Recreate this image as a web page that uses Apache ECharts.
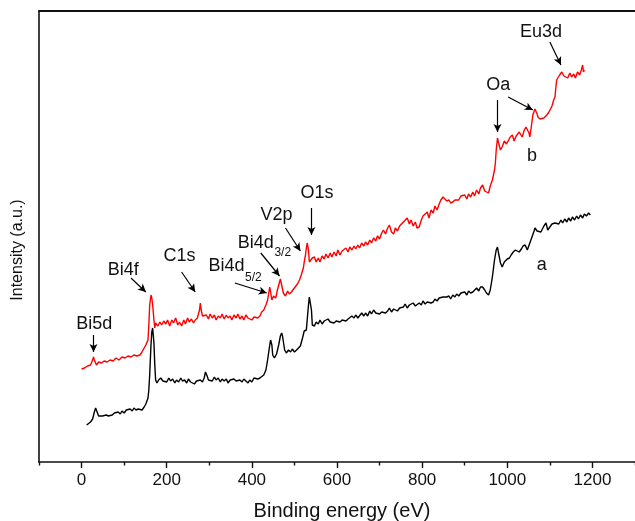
<!DOCTYPE html>
<html><head><meta charset="utf-8">
<script src="https://cdn.jsdelivr.net/npm/echarts@6/dist/echarts.min.js"></script>
<style>html,body{margin:0;padding:0;background:#fff}#c{width:635px;height:521px}</style>
</head><body><div id="c"></div>
<script>
const FONT = "'Liberation Sans', Arial, sans-serif";
const xMajorTicks = [0, 200, 400, 600, 800, 1000, 1200];
const xMinorTicks = [-100, 100, 300, 500, 700, 900, 1100, 1300];

// Spectrum b (red)
const energyB = [0,7,14,21,26,28,30,35,40,47,53,60,67,74,81,88,95,102,109,116,123,130,137,142,147,151,156,158,160,163,165,167,170,172,174,179,184,188,193,198,202,207,212,216,221,226,230,235,240,244,249,253,258,263,267,272,277,279,281,284,288,293,298,302,307,312,316,321,326,330,335,340,344,349,353,358,363,367,372,377,381,386,391,395,400,405,409,414,419,423,428,433,437,440,442,444,447,451,456,460,465,467,470,474,479,484,488,493,498,502,507,512,516,521,523,526,528,530,533,535,537,542,547,551,556,560,565,570,574,579,584,588,593,598,602,607,612,616,621,626,630,635,640,644,649,653,658,663,667,672,677,681,686,691,695,700,705,709,714,719,723,728,733,737,742,747,751,756,760,765,770,774,779,784,788,793,798,802,807,812,816,821,826,830,835,840,844,849,853,858,863,867,872,877,881,886,891,895,900,905,909,914,919,923,928,933,937,942,947,951,956,960,965,970,972,974,977,979,984,988,993,998,1002,1007,1012,1016,1021,1023,1028,1030,1035,1040,1044,1047,1051,1053,1058,1060,1065,1070,1072,1077,1081,1086,1088,1093,1098,1100,1105,1109,1112,1114,1116,1119,1123,1128,1133,1137,1142,1147,1151,1156,1160,1165,1170,1174,1177,1179,1181];
const intensityB = [93,94,96,97,102,105,102,97,100,99,101,100,102,101,104,102,105,104,106,105,107,106,107,110,114,117,122,137,157,167,164,157,142,134,139,136,140,137,141,138,142,136,142,139,144,137,140,136,142,138,144,140,143,139,142,144,152,159,152,146,144,147,143,148,144,147,142,146,144,148,143,147,144,146,142,147,144,148,143,146,142,147,144,146,142,145,143,144,146,150,152,157,162,170,175,170,162,166,164,172,180,183,177,169,166,171,168,170,173,175,178,182,187,194,200,207,214,219,212,200,202,204,205,200,204,200,206,203,208,204,209,205,210,206,212,207,211,209,214,210,215,212,216,213,217,214,219,216,220,217,222,219,224,221,226,223,229,232,228,234,237,230,228,234,231,236,238,240,242,244,238,242,236,240,234,235,242,246,248,250,244,252,249,256,252,258,262,265,263,261,262,259,260,262,264,262,266,264,267,263,268,265,270,266,272,268,274,277,271,273,269,276,282,292,299,312,324,320,312,315,321,318,319,325,327,321,326,324,330,332,325,332,335,337,329,325,340,347,353,348,345,343,342,344,345,347,350,352,356,362,365,374,382,384,387,390,386,388,384,389,385,388,384,390,387,392,397,390,392];

// Spectrum a (black)
const energyA = [12,16,21,26,30,33,35,40,44,49,53,58,63,67,72,77,81,86,91,95,100,105,109,114,119,123,128,133,137,142,147,151,156,158,160,163,165,167,170,172,174,177,181,186,191,195,200,205,209,214,219,223,228,233,237,242,247,251,256,260,265,270,274,279,284,288,291,293,295,298,302,307,312,316,321,326,330,335,340,344,349,353,358,363,367,372,377,381,386,391,395,400,405,409,414,419,423,428,433,437,442,444,447,449,453,458,463,467,470,472,477,481,486,491,495,500,505,509,514,519,523,528,530,533,535,537,540,542,547,551,556,560,565,570,574,579,584,588,593,598,602,607,612,616,621,626,630,635,640,644,649,653,658,663,667,672,677,681,686,691,695,700,705,709,714,719,723,728,733,737,742,747,751,756,760,765,770,774,779,784,788,793,798,802,807,812,816,821,826,830,835,840,844,849,853,858,863,867,872,877,881,886,891,895,900,905,909,914,919,923,928,933,937,942,947,951,956,960,965,970,974,977,979,984,988,993,995,1000,1005,1009,1014,1019,1023,1028,1033,1037,1042,1047,1049,1053,1058,1063,1065,1070,1074,1079,1081,1086,1091,1093,1095,1100,1105,1109,1112,1116,1121,1126,1130,1135,1140,1144,1149,1153,1158,1163,1167,1172,1177,1181,1186,1191,1195];
const intensityA = [37,38,40,43,50,54,52,46,44,46,45,47,46,48,47,49,47,50,48,51,49,52,50,53,51,54,52,53,52,52,55,58,64,72,87,117,130,134,119,97,82,79,82,84,81,83,80,84,81,83,79,82,80,84,81,82,79,83,80,82,78,81,79,82,80,84,90,91,86,82,84,81,85,82,84,80,83,81,83,79,82,80,83,81,79,82,80,83,81,79,82,80,84,82,83,84,86,87,92,102,117,122,117,107,104,108,117,126,129,126,112,109,112,110,113,110,112,114,116,124,131,132,142,157,165,166,152,137,136,140,138,142,138,141,139,143,140,142,139,141,143,140,142,144,141,143,142,146,144,147,144,146,149,146,149,146,151,148,152,149,151,148,150,152,149,151,154,150,153,155,151,154,156,155,158,154,157,155,159,156,158,159,157,161,158,160,162,159,160,163,161,164,162,165,163,165,166,163,167,165,168,166,169,167,170,167,171,169,170,172,174,171,175,175,172,169,167,172,185,202,212,215,210,199,195,200,202,203,204,207,210,212,214,210,213,216,217,212,210,219,225,231,234,231,233,230,232,236,239,240,232,235,238,236,239,241,238,242,239,243,240,244,241,245,242,246,243,247,244,248,246,249,247];

// Annotation texts: [text, energy, intensity, align]
const labelTexts = [
  ['Bi5d', 30, 138, 'center'],
  ['Bi4f', 98, 192, 'center'],
  ['C1s', 230, 206, 'center'],
  ['V2p', 458, 247, 'center'],
  ['O1s', 553, 269, 'center'],
  ['Oa', 979, 377, 'center'],
  ['Eu3d', 1079, 430, 'center'],
  ['b', 1058, 306, 'center'],
  ['a', 1081, 197, 'center']
];
// Labels with subscripts: [main, sub, mainEnergy, mainIntensity, subEnergy, subIntensity]
const subLabels = [
  ['Bi4d', '5/2', 298, 196, 384, 184],
  ['Bi4d', '3/2', 367, 219, 453, 209]
];
// Arrows: [fromEnergy, fromIntensity, toEnergy, toIntensity]
const arrows = [
  [28, 127, 28, 110],
  [116, 184, 151, 170],
  [235, 190, 267, 170],
  [360, 179, 435, 169],
  [421, 209, 465, 186],
  [479, 234, 514, 211],
  [540, 254, 540, 227],
  [977, 362, 977, 330],
  [1002, 365, 1060, 352],
  [1100, 420, 1126, 397]
];

const zip = (xs, ys) => xs.map((x, i) => [x, ys[i]]);
const chart = echarts.init(document.getElementById('c'), null, {renderer: 'canvas'});

const option = {
  animation: false,
  backgroundColor: '#fff',
  grid: {left: 39, right: -6, top: 11, bottom: 59, containLabel: false},
  xAxis: [
    {
      type: 'value', position: 'bottom', min: -100, max: 1300,
      axisLine: {show: true, onZero: false, lineStyle: {color: '#111', width: 1.6}},
      axisTick: {show: true, customValues: xMajorTicks, length: 6, lineStyle: {color: '#111', width: 1.4}},
      axisLabel: {show: true, customValues: xMajorTicks, margin: 10, fontSize: 17, color: '#111', fontFamily: FONT,
        formatter: v => String(v)},
      splitLine: {show: false}
    },
    {
      type: 'value', position: 'bottom', min: -100, max: 1300,
      axisLine: {show: false, onZero: false},
      axisTick: {show: true, customValues: xMinorTicks, length: 3.5, lineStyle: {color: '#111', width: 1.4}},
      axisLabel: {show: false},
      splitLine: {show: false}
    },
    {
      type: 'value', position: 'top', min: -100, max: 1300,
      axisLine: {show: true, onZero: false, lineStyle: {color: '#111', width: 1.8}},
      axisTick: {show: false}, axisLabel: {show: false}, splitLine: {show: false}
    }
  ],
  yAxis: [{
    type: 'value', min: 0, max: 451,
    axisLine: {show: true, onZero: false, lineStyle: {color: '#111', width: 1.6}},
    axisTick: {show: false}, axisLabel: {show: false}, splitLine: {show: false}
  }],
  series: [
    {
      name: 'b', type: 'line', xAxisIndex: 0, yAxisIndex: 0, data: zip(energyB, intensityB),
      showSymbol: false, symbol: 'none', lineStyle: {color: '#ff0000', width: 1.4}, z: 3,
      markLine: {
        silent: true, symbol: ['none', 'arrow'], symbolSize: [6, 8],
        label: {show: false},
        lineStyle: {color: '#000', width: 1.2, type: 'solid'},
        data: arrows.map(a => [{coord: [a[0], a[1]]}, {coord: [a[2], a[3]]}])
      }
    },
    {
      name: 'a', type: 'line', xAxisIndex: 0, yAxisIndex: 0, data: zip(energyA, intensityA),
      showSymbol: false, symbol: 'none', lineStyle: {color: '#000', width: 1.4}, z: 2
    }
  ]
};
chart.setOption(option);

function px(e, v) { return chart.convertToPixel({xAxisIndex: 0, yAxisIndex: 0}, [e, v]); }
const g = [];
labelTexts.forEach(t => {
  const p = px(t[1], t[2]);
  g.push({type: 'text', x: p[0], y: p[1], style: {text: t[0], font: '18px ' + FONT, fill: '#111', textAlign: t[3], textVerticalAlign: 'middle'}});
});
subLabels.forEach(t => {
  const p = px(t[2], t[3]);
  const q = px(t[4], t[5]);
  g.push({type: 'text', x: p[0], y: p[1], style: {text: t[0], font: '18px ' + FONT, fill: '#111', textAlign: 'left', textVerticalAlign: 'middle'}});
  g.push({type: 'text', x: q[0], y: q[1], style: {text: t[1], font: '12px ' + FONT, fill: '#111', textAlign: 'left', textVerticalAlign: 'middle'}});
});
g.push({type: 'text', x: 342, y: 511, style: {text: 'Binding energy (eV)', font: '20px ' + FONT, fill: '#111', textAlign: 'center', textVerticalAlign: 'middle'}});
g.push({type: 'text', x: 18, y: 250, rotation: Math.PI / 2, style: {text: 'Intensity (a.u.)', font: '16px ' + FONT, fill: '#111', textAlign: 'center', textVerticalAlign: 'middle'}});
chart.setOption({graphic: g});
</script>
</body></html>
